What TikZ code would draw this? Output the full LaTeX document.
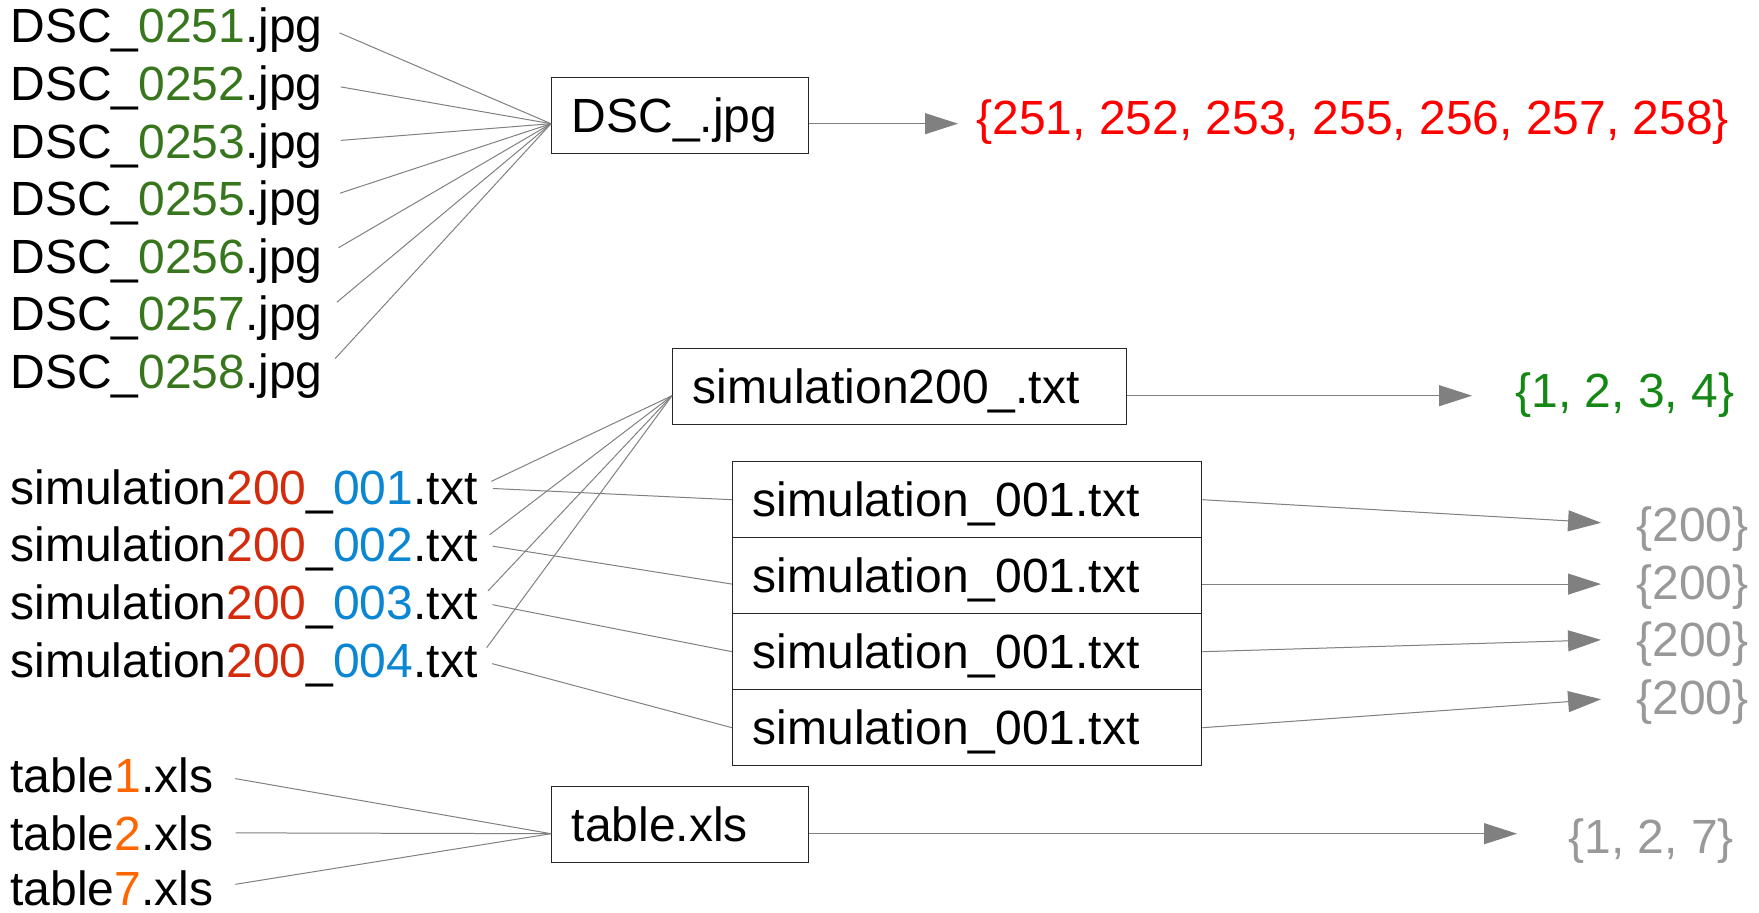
\documentclass[tikz,border=0pt]{standalone}
\usepackage{fontspec}
\setmainfont{Liberation Sans}
\usepackage{tikz}
\usetikzlibrary{arrows.meta}
\usepackage{xcolor}
\definecolor{dscgreen}{RGB}{56, 118, 29}
\definecolor{setred}{RGB}{255, 0, 0}
\definecolor{setgreen}{RGB}{20, 135, 20}
\definecolor{simred}{RGB}{212, 43, 12}
\definecolor{simblue}{RGB}{11, 134, 210}
\definecolor{taborange}{RGB}{255, 102, 0}
\definecolor{setgray}{RGB}{153, 153, 153}
\definecolor{linegray}{RGB}{128, 128, 128}
\newcommand{\namefont}{\fontsize{24}{29}\selectfont}
\tikzset{
  fname/.style={font=\namefont, inner sep=0pt, text height=17.2pt, text depth=0pt, anchor=base west},
  filebox/.style={draw=black!85, line width=0.7pt, font=\namefont, inner xsep=10pt, inner ysep=0pt,
    minimum height=38pt, text height=17.2pt, text depth=0pt, align=left, anchor=north west},
  link/.style={draw=linegray, line width=0.5pt},
  arrow/.style={link, -{Triangle[length=16.5pt, width=10.5pt]}, fill=linegray},
}

\begin{document}
\begin{tikzpicture}[x=0.5pt, y=-0.5pt]
        \useasboundingbox (0,0) rectangle (1759,913);

        % Photos (one pattern, numbers as the set)
        \node[fname] (d1) at (10,43)  {DSC\_\textcolor{dscgreen}{0251}.jpg};
        \node[fname] (d2) at (10,101) {DSC\_\textcolor{dscgreen}{0252}.jpg};
        \node[fname] (d3) at (10,159) {DSC\_\textcolor{dscgreen}{0253}.jpg};
        \node[fname] (d4) at (10,216) {DSC\_\textcolor{dscgreen}{0255}.jpg};
        \node[fname] (d5) at (10,274) {DSC\_\textcolor{dscgreen}{0256}.jpg};
        \node[fname] (d6) at (10,331) {DSC\_\textcolor{dscgreen}{0257}.jpg};
        \node[fname] (d7) at (10,389) {DSC\_\textcolor{dscgreen}{0258}.jpg};
        \node[filebox, text width=108.5pt] (dsc) at (551,77) {DSC\_.jpg};
        \node[fname, text=setred] (dscset) at (976,135)
          {\{251, 252, 253, 255, 256, 257, 258\}};

        \draw[link, shorten <=9pt] (d1.east) -- ([yshift=-4pt]dsc.west);
        \draw[link, shorten <=9pt] (d2.east) -- ([yshift=-4pt]dsc.west);
        \draw[link, shorten <=9pt] (d3.east) -- ([yshift=-4pt]dsc.west);
        \draw[link, shorten <=9pt] (d4.east) -- ([yshift=-4pt]dsc.west);
        \draw[link, shorten <=9pt] (d5.east) -- ([yshift=-4pt]dsc.west);
        \draw[link, shorten <=9pt] (d6.east) -- ([yshift=-4pt]dsc.west);
        \draw[link, shorten <=9pt] (d7.east) -- ([yshift=-4pt]dsc.west);
        \draw[arrow, shorten >=9pt]
          ([yshift=-4pt]dsc.east) -- ([yshift=-4pt]dsc.east -| dscset.west);

        % Simulations (two number fields)
        \node[fname] (f1) at (10,505) {simulation\textcolor{simred}{200}\_\textcolor{simblue}{001}.txt};
        \node[fname] (f2) at (10,561) {simulation\textcolor{simred}{200}\_\textcolor{simblue}{002}.txt};
        \node[fname] (f3) at (10,619) {simulation\textcolor{simred}{200}\_\textcolor{simblue}{003}.txt};
        \node[fname] (f4) at (10,677) {simulation\textcolor{simred}{200}\_\textcolor{simblue}{004}.txt};
        \node[filebox, text width=207pt] (sim) at (672,348) {simulation200\_.txt};
        \node[fname, text=setgreen] (simset) at (1515,408) {\{1, 2, 3, 4\}};

        \node[filebox, text width=214.5pt] (sim1) at (732,461) {simulation\_001.txt};
        \node[filebox, text width=214.5pt] (sim2) at (732,537) {simulation\_001.txt};
        \node[filebox, text width=214.5pt] (sim3) at (732,613) {simulation\_001.txt};
        \node[filebox, text width=214.5pt] (sim4) at (732,689) {simulation\_001.txt};
        \node[fname, text=setgray] (set1) at (1636,542) {\{200\}};
        \node[fname, text=setgray] (set2) at (1636,599) {\{200\}};
        \node[fname, text=setgray] (set3) at (1636,656) {\{200\}};
        \node[fname, text=setgray] (set4) at (1636,714) {\{200\}};

        \draw[link, shorten <=7.5pt] (f1.east) -- ([yshift=-4.5pt]sim.west);
        \draw[link, shorten <=7.5pt] (f2.east) -- ([yshift=-4.5pt]sim.west);
        \draw[link, shorten <=7.5pt] (f3.east) -- ([yshift=-4.5pt]sim.west);
        \draw[link, shorten <=7.5pt] (f4.east) -- ([yshift=-4.5pt]sim.west);
        \draw[link, shorten <=7.5pt] (f1.east) -- (sim1.west);
        \draw[link, shorten <=7.5pt] (f2.east) -- ([yshift=-4.2pt]sim2.west);
        \draw[link, shorten <=7.5pt] (f3.east) -- (sim3.west);
        \draw[link, shorten <=7.5pt] (f4.east) -- (sim4.west);
        \draw[arrow, shorten >=21.5pt]
          ([yshift=-4.5pt]sim.east) -- ([yshift=-4.5pt]sim.east -| simset.west);
        \draw[arrow, shorten >=17.5pt] (sim1.east) -- (set1.west);
        \draw[arrow, shorten >=17.5pt]
          ([yshift=-4.2pt]sim2.east) -- ([yshift=-4.2pt]sim2.east -| set2.west);
        \draw[arrow, shorten >=17.5pt] (sim3.east) -- (set3.west);
        \draw[arrow, shorten >=17.5pt] (sim4.east) -- (set4.west);

        % Tables
        \node[fname] (t1) at (10,792) {table\textcolor{taborange}{1}.xls};
        \node[fname] (t2) at (10,850) {table\textcolor{taborange}{2}.xls};
        \node[fname] (t3) at (10,905) {table\textcolor{taborange}{7}.xls};
        \node[filebox, text width=108.5pt] (tab) at (551,786) {table.xls};
        \node[fname, text=setgray] (tabset) at (1568,853) {\{1, 2, 7\}};

        \draw[link, shorten <=11pt] (t1.east) -- ([yshift=-4.5pt]tab.west);
        \draw[link, shorten <=11pt] (t2.east) -- ([yshift=-4.5pt]tab.west);
        \draw[link, shorten <=11pt] (t3.east) -- ([yshift=-4.5pt]tab.west);
        \draw[arrow, shorten >=25.5pt]
          ([yshift=-4.5pt]tab.east) -- ([yshift=-4.5pt]tab.east -| tabset.west);
      \end{tikzpicture}
\end{document}
